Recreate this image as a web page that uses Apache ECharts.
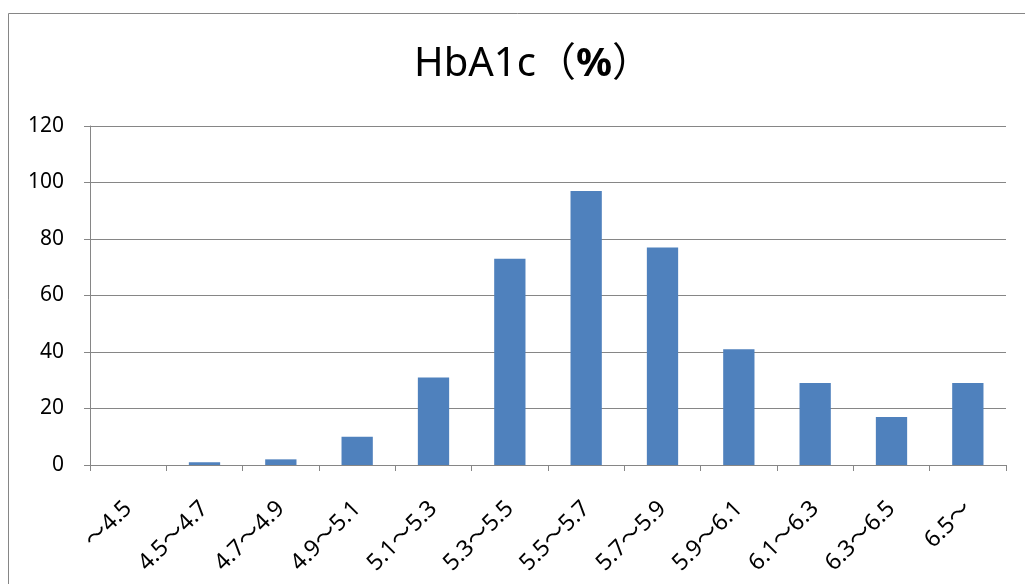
<!DOCTYPE html>
<html>
<head>
<meta charset="utf-8">
<script src="https://cdn.jsdelivr.net/npm/echarts@6/dist/echarts.min.js"></script>
<style>
  html, body { margin: 0; padding: 0; background: #fff; }
  #chart { width: 1025px; height: 584px; }
</style>
</head>
<body>
<div id="chart"></div>
<script>
var categories = ['～4.5', '4.5～4.7', '4.7～4.9', '4.9～5.1', '5.1～5.3', '5.3～5.5',
	'5.5～5.7', '5.7～5.9', '5.9～6.1', '6.1～6.3', '6.3～6.5', '6.5～'];
var counts = [0, 1, 2, 10, 31, 73, 97, 77, 41, 29, 17, 29];
var yTicks = [0, 20, 40, 60, 80, 100, 120];

var fontStack = '"Noto Sans", "Noto Sans CJK JP", sans-serif';
var gray = '#868686';

var myChart = echarts.init(document.getElementById('chart'));
var option = {
	backgroundColor: '#fff',
	animation: false,
	title: {
		text: '{a|HbA1c（}{b|%}{a|）}',
		left: 409,
		top: 40,
		textStyle: {
			rich: {
				a: { fontSize: 40, fontFamily: fontStack, fontWeight: 'normal', color: '#000' },
				b: { fontSize: 40, fontFamily: fontStack, fontWeight: 'bold', color: '#000' }
			}
		}
	},
	graphic: [{
		type: 'rect',
		shape: { x: 8.5, y: 13.5, width: 1100, height: 700 },
		style: { fill: 'none', stroke: gray, lineWidth: 1 },
		silent: true
	}],
	grid: {
		left: 90,
		right: 19,
		top: 126,
		bottom: 119,
		outerBoundsMode: 'none'
	},
	xAxis: {
		type: 'category',
		data: categories,
		axisLine: { lineStyle: { color: gray, width: 1 } },
		axisTick: { show: true, alignWithLabel: false, length: 6, lineStyle: { color: gray } },
		axisLabel: {
			rotate: 45,
			interval: 0,
			margin: 40,
			fontSize: 23,
			fontFamily: fontStack,
			color: '#000'
		}
	},
	yAxis: {
		type: 'value',
		min: yTicks[0],
		max: yTicks[yTicks.length - 1],
		interval: 20,
		axisLine: { show: true, lineStyle: { color: gray, width: 1 } },
		axisTick: { show: true, length: 6, lineStyle: { color: gray } },
		axisLabel: {
			margin: 26,
			fontSize: 21,
			fontFamily: fontStack,
			color: '#000'
		},
		splitLine: { show: true, lineStyle: { color: gray, width: 1 } }
	},
	series: [{
		type: 'bar',
		data: counts,
		barCategoryGap: '59%',
		itemStyle: { color: '#4F81BD' }
	}]
};
myChart.setOption(option);
</script>
</body>
</html>
